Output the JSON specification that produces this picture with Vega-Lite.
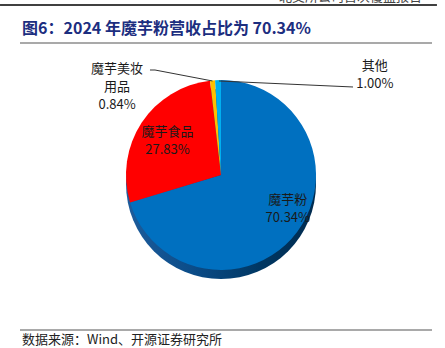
{
  "$schema": "https://vega.github.io/schema/vega-lite/v6.json",
  "width": 412,
  "height": 287,
  "autosize": {"type": "none"},
  "padding": {"left": 20, "top": 43, "right": 13, "bottom": 18},
  "background": "white",
  "config": {"view": {"stroke": null}},
  "data": {
    "values": [
      {"name": "魔芋粉", "label": "魔芋粉", "value": 70.34, "order": 1},
      {"name": "魔芋食品", "label": "魔芋食品", "value": 27.83, "order": 2},
      {"name": "魔芋美妆用品", "label": "魔芋美妆\n用品", "value": 0.84, "order": 3},
      {"name": "其他", "label": "其他", "value": 1.0, "order": 4}
    ]
  },
  "transform": [
    {"stack": "value", "groupby": [], "sort": [{"field": "order", "order": "ascending"}], "offset": "normalize", "as": ["t0", "t1"]},
    {"calculate": "(datum.t0 + datum.t1) / 2", "as": "tm"},
    {"calculate": "datum.label + '\\n' + format(datum.value, '.2f') + '%'", "as": "text"}
  ],
  "layer": [
    {
      "transform": [{"filter": "datum.order == 1"}],
      "mark": {
        "type": "arc", "radius": 95, "theta": 0, "theta2": 6.2832, "yOffset": 9,
        "fill": {"gradient": "linear", "x1": 0, "y1": 0, "x2": 1, "y2": 0,
          "stops": [{"offset": 0, "color": "#1d5c9c"}, {"offset": 0.35, "color": "#0b4c88"}, {"offset": 0.7, "color": "#003763"}, {"offset": 1, "color": "#002b4f"}]}
      },
      "encoding": {
        "x": {"datum": 0.4879, "type": "quantitative", "scale": {"domain": [0, 1]}, "axis": null},
        "y": {"datum": 0.5401, "type": "quantitative", "scale": {"domain": [0, 1]}, "axis": null}
      }
    },
    {
      "mark": {"type": "arc", "radius": 95},
      "encoding": {
        "theta": {"field": "t0", "type": "quantitative", "stack": null, "scale": {"domain": [0, 1], "range": [0, 6.283185307]}},
        "theta2": {"field": "t1"},
        "color": {"field": "name", "type": "nominal", "legend": null,
          "scale": {"domain": ["魔芋粉", "魔芋食品", "魔芋美妆用品", "其他"], "range": ["#0070C0", "#FF0000", "#FFC000", "#00B0F0"]}},
        "x": {"datum": 0.4879, "type": "quantitative", "scale": {"domain": [0, 1]}, "axis": null},
        "y": {"datum": 0.5401, "type": "quantitative", "scale": {"domain": [0, 1]}, "axis": null}
      }
    },
    {
      "transform": [{"filter": "datum.order == 1"}],
      "mark": {"type": "text", "radius": 72, "dx": 9, "dy": -18, "lineBreak": "\n", "lineHeight": 18, "font": "Noto Sans CJK SC", "fontSize": 13, "color": "#1a1a1a", "align": "center", "baseline": "middle"},
      "encoding": {
        "theta": {"field": "tm", "type": "quantitative", "stack": null, "scale": {"domain": [0, 1], "range": [0, 6.283185307]}},
        "text": {"field": "text"},
        "x": {"datum": 0.4879, "type": "quantitative", "scale": {"domain": [0, 1]}, "axis": null},
        "y": {"datum": 0.5401, "type": "quantitative", "scale": {"domain": [0, 1]}, "axis": null}
      }
    },
    {
      "transform": [{"filter": "datum.order == 2"}],
      "mark": {"type": "text", "radius": 64, "dx": 0, "dy": -8, "lineBreak": "\n", "lineHeight": 18, "font": "Noto Sans CJK SC", "fontSize": 13, "color": "#1a1a1a", "align": "center", "baseline": "middle"},
      "encoding": {
        "theta": {"field": "tm", "type": "quantitative", "stack": null, "scale": {"domain": [0, 1], "range": [0, 6.283185307]}},
        "text": {"field": "text"},
        "x": {"datum": 0.4879, "type": "quantitative", "scale": {"domain": [0, 1]}, "axis": null},
        "y": {"datum": 0.5401, "type": "quantitative", "scale": {"domain": [0, 1]}, "axis": null}
      }
    },
    {
      "transform": [{"filter": "datum.order == 3"}],
      "mark": {"type": "text", "radius": 100, "dx": -95, "dy": -6, "lineBreak": "\n", "lineHeight": 18, "font": "Noto Sans CJK SC", "fontSize": 13, "color": "#1a1a1a", "align": "center", "baseline": "middle"},
      "encoding": {
        "theta": {"field": "tm", "type": "quantitative", "stack": null, "scale": {"domain": [0, 1], "range": [0, 6.283185307]}},
        "text": {"field": "text"},
        "x": {"datum": 0.4879, "type": "quantitative", "scale": {"domain": [0, 1]}, "axis": null},
        "y": {"datum": 0.5401, "type": "quantitative", "scale": {"domain": [0, 1]}, "axis": null}
      }
    },
    {
      "transform": [{"filter": "datum.order == 4"}],
      "mark": {"type": "text", "radius": 100, "dx": 157, "dy": -9, "lineBreak": "\n", "lineHeight": 18, "font": "Noto Sans CJK SC", "fontSize": 13, "color": "#1a1a1a", "align": "center", "baseline": "middle"},
      "encoding": {
        "theta": {"field": "tm", "type": "quantitative", "stack": null, "scale": {"domain": [0, 1], "range": [0, 6.283185307]}},
        "text": {"field": "text"},
        "x": {"datum": 0.4879, "type": "quantitative", "scale": {"domain": [0, 1]}, "axis": null},
        "y": {"datum": 0.5401, "type": "quantitative", "scale": {"domain": [0, 1]}, "axis": null}
      }
    },
    {
      "transform": [{"filter": "datum.order == 4"}],
      "mark": {"type": "rule", "color": "#333333", "strokeWidth": 1},
      "encoding": {
        "x": {"datum": 0.4830, "type": "quantitative", "scale": {"domain": [0, 1]}, "axis": null},
        "x2": {"datum": 0.8083},
        "y": {"datum": 0.8676, "type": "quantitative", "scale": {"domain": [0, 1]}, "axis": null},
        "y2": {"datum": 0.8467}
      }
    },
    {
      "transform": [{"filter": "datum.order == 3"}],
      "mark": {"type": "rule", "color": "#333333", "strokeWidth": 1},
      "encoding": {
        "x": {"datum": 0.4672, "type": "quantitative", "scale": {"domain": [0, 1]}, "axis": null},
        "x2": {"datum": 0.3277},
        "y": {"datum": 0.8676, "type": "quantitative", "scale": {"domain": [0, 1]}, "axis": null},
        "y2": {"datum": 0.9059}
      }
    },
    {
      "transform": [{"filter": "datum.order == 3"}],
      "mark": {"type": "rule", "color": "#333333", "strokeWidth": 1},
      "encoding": {
        "x": {"datum": 0.3277, "type": "quantitative", "scale": {"domain": [0, 1]}, "axis": null},
        "x2": {"datum": 0.3155},
        "y": {"datum": 0.9059, "type": "quantitative", "scale": {"domain": [0, 1]}, "axis": null},
        "y2": {"datum": 0.9059}
      }
    },
    {
      "transform": [{"filter": "datum.order == 1"}],
      "mark": {"type": "rule", "color": "#8c8c8c", "strokeWidth": 1.5},
      "encoding": {
        "y": {"datum": 1, "type": "quantitative", "scale": {"domain": [0, 1]}, "axis": null}
      }
    },
    {
      "transform": [{"filter": "datum.order == 1"}],
      "mark": {"type": "rule", "color": "#8c8c8c", "strokeWidth": 1.5},
      "encoding": {
        "y": {"datum": 0, "type": "quantitative", "scale": {"domain": [0, 1]}, "axis": null}
      }
    },
    {
      "transform": [{"filter": "datum.order == 1"}],
      "mark": {"type": "rule", "color": "#000000", "strokeWidth": 1.5},
      "encoding": {
        "x": {"datum": -0.0485, "type": "quantitative", "scale": {"domain": [0, 1]}, "axis": null},
        "x2": {"datum": 1.012},
        "y": {"datum": 1.1324, "type": "quantitative", "scale": {"domain": [0, 1]}, "axis": null}
      }
    },
    {
      "transform": [{"filter": "datum.order == 1"}],
      "mark": {"type": "text", "align": "right", "baseline": "alphabetic", "font": "Noto Sans CJK SC", "fontSize": 13, "color": "#444444"},
      "encoding": {
        "x": {"datum": 0.9757, "type": "quantitative", "scale": {"domain": [0, 1]}, "axis": null},
        "y": {"datum": 1.1463, "type": "quantitative", "scale": {"domain": [0, 1]}, "axis": null},
        "text": {"value": "北交所公司首次覆盖报告"}
      }
    },
    {
      "transform": [{"filter": "datum.order == 1"}],
      "mark": {"type": "text", "align": "left", "baseline": "middle", "font": "Noto Sans CJK SC", "fontSize": 16, "fontWeight": "bold", "color": "#1c2e80"},
      "encoding": {
        "x": {"datum": 0.005, "type": "quantitative", "scale": {"domain": [0, 1]}, "axis": null},
        "y": {"datum": 1.0505, "type": "quantitative", "scale": {"domain": [0, 1]}, "axis": null},
        "text": {"value": "图6：2024 年魔芋粉营收占比为 70.34%"}
      }
    },
    {
      "transform": [{"filter": "datum.order == 1"}],
      "mark": {"type": "text", "align": "left", "baseline": "middle", "font": "Noto Sans CJK SC", "fontSize": 13, "color": "#222222"},
      "encoding": {
        "x": {"datum": 0.005, "type": "quantitative", "scale": {"domain": [0, 1]}, "axis": null},
        "y": {"datum": -0.0348, "type": "quantitative", "scale": {"domain": [0, 1]}, "axis": null},
        "text": {"value": "数据来源：Wind、开源证券研究所"}
      }
    }
  ]
}
